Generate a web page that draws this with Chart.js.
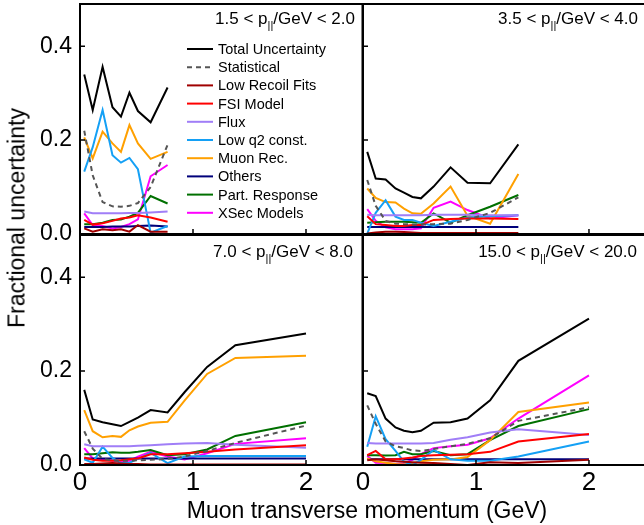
<!DOCTYPE html>
<html>
<head>
<meta charset="utf-8">
<script src="https://cdn.jsdelivr.net/npm/chart.js@4.4.0/dist/chart.umd.min.js"></script>
<style>
html,body{margin:0;padding:0;background:#fff;}
#wrap{position:relative;width:644px;height:525px;overflow:hidden;font-family:"Liberation Sans",Arial,Helvetica,sans-serif;color:#000;}
canvas{position:absolute;left:0;top:0;}
.plbl{position:absolute;font-size:17px;line-height:17px;white-space:nowrap;text-align:right;}
.sub{font-size:11px;position:relative;top:5px;}
#ytitle{position:absolute;left:17px;top:218px;transform:translate(-50%,-50%) rotate(-90deg);font-size:23px;white-space:nowrap;}
#xtitle{position:absolute;left:367px;top:510px;transform:translate(-50%,-50%);font-size:23px;white-space:nowrap;}
</style>
</head>
<body>
<div id="wrap">
  <canvas id="cTL" width="644" height="525"></canvas>
  <canvas id="cTR" width="644" height="525"></canvas>
  <canvas id="cBL" width="644" height="525"></canvas>
  <canvas id="cBR" width="644" height="525"></canvas>
  <div class="plbl" style="right:289px;top:10px;">1.5 &lt; p<span class="sub">||</span>/GeV &lt; 2.0</div>
  <div class="plbl" style="right:6px;top:10px;">3.5 &lt; p<span class="sub">||</span>/GeV &lt; 4.0</div>
  <div class="plbl" style="right:291px;top:243px;">7.0 &lt; p<span class="sub">||</span>/GeV &lt; 8.0</div>
  <div class="plbl" style="right:7px;top:243px;">15.0 &lt; p<span class="sub">||</span>/GeV &lt; 20.0</div>
  <div id="ytitle">Fractional uncertainty</div>
  <div id="xtitle">Muon transverse momentum (GeV)</div>
</div>
<script>
// ---- data ----
const ptCenters = [0.0375, 0.1125, 0.2, 0.2875, 0.3625, 0.4375, 0.5125, 0.625, 0.775, 0.925, 1.125, 1.375, 2.0];
const xTickValues = [0, 1, 2];
const yTickValues = [0, 0.2, 0.4];
const seriesLabels = ['Total Uncertainty','Statistical','Low Recoil Fits','FSI Model','Flux','Low q2 const.','Muon Rec.','Others','Part. Response','XSec Models'];

// Panel 1: 1.5 < p|| < 2.0
const total1     = [0.340, 0.264, 0.356, 0.270, 0.250, 0.301, 0.262, 0.238, 0.312];
const stat1      = [0.220, 0.125, 0.068, 0.059, 0.058, 0.060, 0.066, 0.100, 0.190];
const lowRecoil1 = [0.012, 0.005, 0.010, 0.008, 0.010, 0.005, 0.019, 0.005, 0.005];
const fsi1       = [0.030, 0.020, 0.023, 0.028, 0.033, 0.035, 0.040, 0.035, 0.026];
const flux1      = [0.048, 0.044, 0.044, 0.044, 0.044, 0.045, 0.045, 0.046, 0.048];
const lowq21     = [0.133, 0.185, 0.264, 0.168, 0.152, 0.162, 0.138, 0.003, 0.017];
const muon1      = [0.206, 0.161, 0.218, 0.193, 0.175, 0.232, 0.193, 0.160, 0.175];
const others1    = [0.015, 0.015, 0.015, 0.016, 0.016, 0.016, 0.017, 0.018, 0.016];
const part1      = [0.021, 0.021, 0.024, 0.030, 0.031, 0.037, 0.045, 0.081, 0.065];
const xsec1      = [0.044, 0.019, 0.017, 0.012, 0.015, 0.021, 0.031, 0.123, 0.147];

// Panel 2: 3.5 < p|| < 4.0
const total2     = [0.175, 0.118, 0.116, 0.097, 0.088, 0.079, 0.076, 0.101, 0.142, 0.109, 0.108, 0.191];
const stat2      = [0.115, 0.060, 0.028, 0.022, 0.021, 0.020, 0.020, 0.021, 0.022, 0.030, 0.045, 0.078];
const lowRecoil2 = [0.001, 0.003, 0.005, 0.005, 0.004, 0.003, 0.002, 0.002, 0.002, 0.002, 0.002, 0.002];
const fsi2       = [0.038, 0.021, 0.019, 0.017, 0.017, 0.019, 0.019, 0.030, 0.032, 0.033, 0.033, 0.032];
const flux2      = [0.041, 0.040, 0.040, 0.040, 0.040, 0.040, 0.040, 0.041, 0.041, 0.041, 0.040, 0.040];
const lowq22     = [0.001, 0.045, 0.072, 0.037, 0.030, 0.030, 0.024, 0.017, 0.026, 0.035, 0.038, 0.040];
const muon2      = [0.097, 0.077, 0.068, 0.067, 0.054, 0.044, 0.043, 0.065, 0.101, 0.039, 0.022, 0.128];
const others2    = [0.015, 0.015, 0.015, 0.015, 0.015, 0.015, 0.015, 0.015, 0.015, 0.015, 0.015, 0.015];
const part2      = [0.024, 0.025, 0.026, 0.026, 0.026, 0.025, 0.024, 0.044, 0.024, 0.040, 0.058, 0.083];
const xsec2      = [0.053, 0.028, 0.014, 0.010, 0.010, 0.010, 0.012, 0.056, 0.069, 0.051, 0.033, 0.040];

// Panel 3: 7.0 < p|| < 8.0
const total3     = [0.160, 0.097, 0.091, 0.087, 0.083, 0.092, 0.101, 0.117, 0.112, 0.155, 0.209, 0.255, 0.280];
const stat3      = [0.072, 0.035, 0.013, 0.010, 0.009, 0.009, 0.010, 0.011, 0.013, 0.018, 0.030, 0.047, 0.084];
const lowRecoil3 = [0.002, 0.002, 0.003, 0.004, 0.003, 0.002, 0.002, 0.001, 0.001, 0.001, 0.001, 0.001, 0.001];
const fsi3       = [0.016, 0.011, 0.009, 0.009, 0.010, 0.012, 0.014, 0.023, 0.023, 0.025, 0.028, 0.033, 0.042];
const flux3      = [0.044, 0.040, 0.040, 0.040, 0.040, 0.040, 0.041, 0.042, 0.044, 0.046, 0.047, 0.043, 0.037];
const lowq23     = [0.012, 0.005, 0.039, 0.015, 0.004, 0.005, 0.013, 0.026, 0.004, 0.018, 0.019, 0.019, 0.019];
const muon3      = [0.117, 0.072, 0.059, 0.062, 0.060, 0.074, 0.082, 0.090, 0.092, 0.137, 0.194, 0.228, 0.233];
const others3    = [0.014, 0.014, 0.014, 0.014, 0.014, 0.014, 0.014, 0.014, 0.014, 0.014, 0.014, 0.014, 0.014];
const part3      = [0.023, 0.023, 0.025, 0.027, 0.026, 0.026, 0.028, 0.032, 0.021, 0.023, 0.033, 0.062, 0.091];
const xsec3      = [0.036, 0.014, 0.012, 0.009, 0.007, 0.009, 0.018, 0.028, 0.018, 0.012, 0.025, 0.045, 0.057];

// Panel 4: 15.0 < p|| < 20.0
const total4     = [0.153, 0.147, 0.099, 0.080, 0.073, 0.070, 0.073, 0.090, 0.091, 0.099, 0.138, 0.222, 0.312];
const stat4      = [0.127, 0.088, 0.050, 0.040, 0.036, 0.031, 0.030, 0.034, 0.040, 0.045, 0.057, 0.094, 0.123];
const lowRecoil4 = [0.010, 0.012, 0.010, 0.008, 0.007, 0.006, 0.005, 0.004, 0.002, 0.000, 0.006, 0.004, 0.011];
const fsi4       = [0.021, 0.030, 0.012, 0.012, 0.014, 0.016, 0.019, 0.021, 0.022, 0.023, 0.028, 0.050, 0.066];
const flux4      = [0.047, 0.046, 0.046, 0.046, 0.046, 0.046, 0.046, 0.047, 0.054, 0.059, 0.069, 0.076, 0.064];
const lowq24     = [0.039, 0.104, 0.055, 0.030, 0.007, 0.000, 0.011, 0.032, 0.012, 0.009, 0.009, 0.018, 0.050];
const muon4      = [0.014, 0.008, 0.005, 0.002, 0.001, 0.004, 0.008, 0.011, 0.012, 0.017, 0.053, 0.113, 0.133];
const others4    = [0.012, 0.012, 0.012, 0.012, 0.012, 0.012, 0.012, 0.012, 0.012, 0.012, 0.012, 0.012, 0.012];
const part4      = [0.021, 0.021, 0.020, 0.021, 0.028, 0.023, 0.023, 0.030, 0.021, 0.023, 0.053, 0.083, 0.119];
const xsec4      = [0.019, 0.005, 0.004, 0.002, 0.004, 0.011, 0.023, 0.036, 0.040, 0.043, 0.057, 0.099, 0.191];

// ---- styles ----
const FONT = '"Liberation Sans", Arial, Helvetica, sans-serif';
const seriesColors = ['#000000','#555555','#a00000','#ff0000','#a07ef7','#14a0f5','#ffa000','#00007a','#007000','#ff00ff'];
const seriesDash = [[],[5,4],[],[],[],[],[],[],[],[]];

const framePlugin = {
  id: 'frame',
  afterDraw(chart, args, opts) {
    const {ctx, chartArea: a} = chart;
    const xs = chart.scales.x, ys = chart.scales.y;
    ctx.save();
    ctx.strokeStyle = '#000';
    ctx.lineWidth = 1.5;
    const tl = 5;
    ctx.beginPath();
    xs.ticks.forEach(t => { const p = xs.getPixelForValue(t.value); ctx.moveTo(p, a.bottom); ctx.lineTo(p, a.bottom - tl); });
    ys.ticks.forEach(t => { const p = ys.getPixelForValue(t.value); ctx.moveTo(a.left, p); ctx.lineTo(a.left + tl, p); });
    ctx.stroke();
    ctx.lineWidth = 2;
    ctx.beginPath();
    const rx = a.right + (opts.rightEdge ? 0 : 5);
    ctx.moveTo(rx, a.top);
    ctx.lineTo(a.left, a.top);
    ctx.lineTo(a.left, a.bottom);
    ctx.lineTo(rx, a.bottom);
    if (opts.rightEdge) { ctx.moveTo(a.right, a.top); ctx.lineTo(a.right, a.bottom); }
    ctx.stroke();
    ctx.restore();
  }
};

const innerLegend = {
  id: 'innerLegend',
  afterDraw(chart, args, opts) {
    if (!opts.show) return;
    const {ctx, chartArea: a} = chart;
    ctx.save();
    ctx.font = '14.5px ' + FONT;
    ctx.textBaseline = 'middle';
    ctx.textAlign = 'left';
    chart.data.datasets.forEach((ds, i) => {
      const yy = a.top + opts.top + i * opts.rowH;
      const x0 = a.left + opts.left;
      ctx.strokeStyle = ds.borderColor;
      ctx.lineWidth = 2;
      ctx.setLineDash(ds.borderDash || []);
      ctx.beginPath(); ctx.moveTo(x0, yy); ctx.lineTo(x0 + 26, yy); ctx.stroke();
      ctx.setLineDash([]);
      ctx.fillStyle = '#000';
      ctx.fillText(ds.label, x0 + 31, yy + 1);
    });
    ctx.restore();
  }
};

function makePanel(id, seriesList, cfg) {
  const datasets = seriesList.map((vals, k) => ({
    label: seriesLabels[k],
    data: vals.map((v, i) => ({x: ptCenters[i], y: v})),
    borderColor: seriesColors[k],
    backgroundColor: seriesColors[k],
    borderWidth: 2,
    borderDash: seriesDash[k],
    pointRadius: 0,
    tension: 0,
    fill: false
  }));
  return new Chart(document.getElementById(id), {
    type: 'line',
    data: { datasets },
    options: {
      responsive: false,
      animation: false,
      events: [],
      layout: { padding: cfg.padding },
      plugins: {
        legend: { display: false },
        tooltip: { enabled: false },
        frame: { rightEdge: cfg.rightEdge },
        innerLegend: { show: !!cfg.legend, left: 107, top: 45, rowH: 18.2 }
      },
      scales: {
        x: {
          type: 'linear', min: 0, max: cfg.xmax,
          grid: { display: false, drawTicks: false }, border: { display: false },
          ticks: { display: cfg.xLabels, color: '#000', font: { family: FONT, size: 26 }, padding: 2, maxRotation: 0, autoSkip: false,
                   callback: v => String(v) },
          afterBuildTicks: s => { s.ticks = xTickValues.map(v => ({ value: v })); },
          afterFit: s => { s.height = cfg.xHeight; s.paddingLeft = 0; s.paddingRight = 0; }
        },
        y: {
          type: 'linear', min: 0, max: 0.49,
          grid: { display: false, drawTicks: false }, border: { display: false },
          ticks: { display: cfg.yLabels, color: '#000', font: { family: FONT, size: 23 }, padding: 8,
                   callback: v => Number(v).toFixed(1) },
          afterBuildTicks: s => { s.ticks = yTickValues.map(v => ({ value: v })); },
          afterFit: s => { s.width = cfg.yWidth; s.paddingTop = 0; s.paddingBottom = 0; }
        }
      }
    },
    plugins: [framePlugin, innerLegend]
  });
}

makePanel('cTL', [total1, stat1, lowRecoil1, fsi1, flux1, lowq21, muon1, others1, part1, xsec1],
  { padding: {left: 0, top: 4, right: 281.5, bottom: 291}, yWidth: 80, xHeight: 0, xmax: 2.5, xLabels: false, yLabels: true, rightEdge: true, legend: true });
makePanel('cTR', [total2, stat2, lowRecoil2, fsi2, flux2, lowq22, muon2, others2, part2, xsec2],
  { padding: {left: 363, top: 4, right: 0, bottom: 291}, yWidth: 0, xHeight: 0, xmax: 2.487, xLabels: false, yLabels: false, rightEdge: false });
makePanel('cBL', [total3, stat3, lowRecoil3, fsi3, flux3, lowq23, muon3, others3, part3, xsec3],
  { padding: {left: 0, top: 235, right: 281.5, bottom: 0}, yWidth: 80, xHeight: 60, xmax: 2.5, xLabels: true, yLabels: true, rightEdge: true });
makePanel('cBR', [total4, stat4, lowRecoil4, fsi4, flux4, lowq24, muon4, others4, part4, xsec4],
  { padding: {left: 363, top: 235, right: 0, bottom: 0}, yWidth: 0, xHeight: 60, xmax: 2.487, xLabels: true, yLabels: false, rightEdge: false });
</script>
</body>
</html>
